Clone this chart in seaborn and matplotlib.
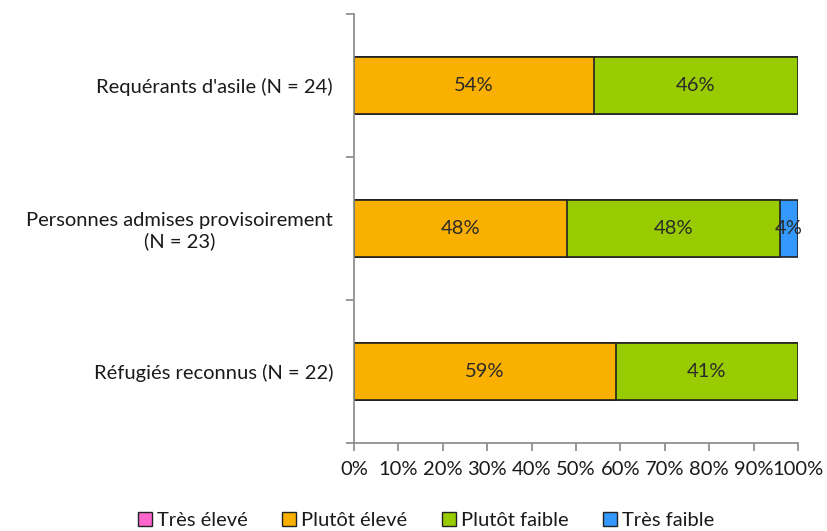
import matplotlib
matplotlib.use("Agg")
import matplotlib.pyplot as plt
import seaborn as sns
import pandas as pd
import numpy as np
from matplotlib.patches import Patch
from matplotlib.ticker import FixedLocator, PercentFormatter

categories = ["Requérants d'asile (N = 24)",
              "Personnes admises provisoirement\n(N = 23)",
              "Réfugiés reconnus (N = 22)"]
series = ["Très élevé", "Plutôt élevé", "Plutôt faible", "Très faible"]
tres_eleve = [0, 0, 0]
plutot_eleve = [54, 48, 59]
plutot_faible = [46, 48, 41]
tres_faible = [0, 4, 0]
colors = ["#FF66CC", "#F9B000", "#99CC00", "#3399FF"]

sns.set_theme(style="white")
plt.rcParams['font.family'] = ['Lato', 'DejaVu Sans']

FS = 14.5
TXT = "#1a1a1a"

values = np.array([tres_eleve, plutot_eleve, plutot_faible, tres_faible], dtype=float)
cum = np.cumsum(values, axis=0)

fig = plt.figure(figsize=(8.27, 5.31), dpi=100)
ax = fig.add_axes([0.428, 0.166, 0.537, 0.808])

# draw cumulative bars from the last series to the first (overplotting)
for i in range(len(series) - 1, -1, -1):
    df = pd.DataFrame({"cat": categories, "val": cum[i]})
    sns.barplot(data=df, x="val", y="cat", orient="h", color=colors[i],
                saturation=1, width=0.4, edgecolor="#222222", linewidth=1.2,
                ax=ax)

# labels
for i in range(len(series)):
    for j in range(len(categories)):
        v = values[i, j]
        if v > 0:
            center = cum[i, j] - v / 2
            ax.text(center, j, f"{v:.0f}%", ha="center", va="center",
                    fontsize=FS, color="#2a2a2a")

ax.set_xlim(0, 100)
ax.set_ylim(2.5, -0.5)
ax.set_xlabel("")
ax.set_ylabel("")
ax.xaxis.set_major_locator(FixedLocator(np.arange(0, 101, 10)))
ax.xaxis.set_major_formatter(PercentFormatter(decimals=0))
ax.yaxis.set_minor_locator(FixedLocator([-0.5, 0.5, 1.5, 2.5]))
ax.tick_params(axis="y", which="major", length=0, labelsize=FS,
               labelcolor=TXT, pad=15)
ax.tick_params(axis="y", which="minor", length=6, width=1.2,
               color="#888888", left=True)
ax.tick_params(axis="x", which="major", length=6, width=1.2,
               color="#888888", bottom=True, labelsize=FS,
               labelcolor=TXT, pad=7)
for lbl in ax.get_yticklabels():
    lbl.set_multialignment("center")
for s in ["top", "right"]:
    ax.spines[s].set_visible(False)
for s in ["left", "bottom"]:
    ax.spines[s].set_color("#888888")
    ax.spines[s].set_linewidth(1.2)

handles = [Patch(facecolor=c, edgecolor="#222222", linewidth=1.0, label=s)
           for c, s in zip(colors, series)]
leg = fig.legend(handles=handles, loc="lower center", bbox_to_anchor=(0.515, -0.03),
                 ncol=4, frameon=False, fontsize=FS,
                 handlelength=0.7, handleheight=0.7, handletextpad=0.25,
                 columnspacing=1.7)
for t in leg.get_texts():
    t.set_color(TXT)

fig.savefig("out.png", dpi=100)
